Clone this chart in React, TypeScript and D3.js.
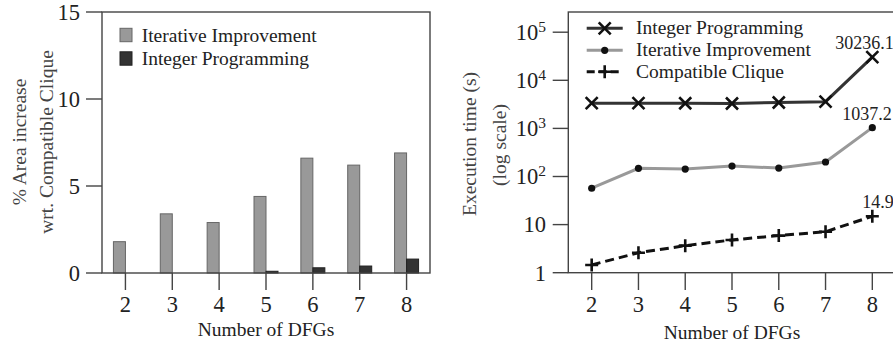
import React from 'react';
import * as d3 from 'd3';

// ---------- data ----------
const categories = [2, 3, 4, 5, 6, 7, 8];

// left chart: % area increase wrt. Compatible Clique
const areaIterative = [1.8, 3.4, 2.9, 4.4, 6.6, 6.2, 6.9];
const areaInteger = [0, 0, 0, 0.1, 0.3, 0.4, 0.8];
const areaTicks = [0, 5, 10, 15];

// right chart: execution time (s), log scale
const timeInteger = [3350, 3350, 3330, 3300, 3450, 3600, 30236.1];
const timeIterative = [57, 148, 143, 165, 150, 200, 1037.2];
const timeClique = [1.45, 2.6, 3.65, 4.8, 5.9, 7.1, 14.9];
const timeTicks = [1, 10, 100, 1000, 10000, 100000];
const timeTickBase = ['1', '10', '10', '10', '10', '10'];
const timeTickExp = ['', '', '2', '3', '4', '5'];
const annotationLabels = ['30236.1', '1037.2', '14.9'];

// ---------- layout / style constants ----------
const FONT = '"Liberation Serif", "Times New Roman", serif';
const TEXT = '#222';
const AXIS = '#444';
const annDx = [-37, -30, -10];

const L = { left: 102, right: 430, top: 12, bottom: 273 };
const R = { left: 568.3, right: 895.7, top: 12, bottom: 272.7 };

const xMark = 'M-6,-6L6,6M-6,6L6,-6';
const plusMark = 'M-6.5,0H6.5M0,-6.5V6.5';

export default function App() {
  // left scales
  const xL = d3.scaleBand<number>().domain(categories).range([L.left, L.right]).padding(0);
  const cL = (c: number) => (xL(c) as number) + xL.bandwidth() / 2;
  const yL = d3.scaleLinear().domain([0, 15]).range([L.bottom, L.top]);
  const barW = 12;

  // right scales
  const xR = d3.scaleBand<number>().domain(categories).range([R.left, R.right]).padding(0);
  const cR = (c: number) => (xR(c) as number) + xR.bandwidth() / 2;
  const yR = d3.scaleLog().domain([1, Math.pow(10, 5.42)]).range([R.bottom, R.top]);

  const line = d3
    .line<number>()
    .x((_, i) => cR(categories[i]))
    .y((v) => yR(v));

  const seriesR = [
    { name: 'Integer Programming', data: timeInteger, color: '#333', dash: undefined as string | undefined, mark: 'x' },
    { name: 'Iterative Improvement', data: timeIterative, color: '#999', dash: undefined, mark: 'dot' },
    { name: 'Compatible Clique', data: timeClique, color: '#111', dash: '9,5', mark: 'plus' },
  ];

  const marker = (m: string, x: number, y: number, key: string) => {
    if (m === 'dot') return <circle key={key} cx={x} cy={y} r={3.6} fill="#111" />;
    return (
      <path
        key={key}
        d={m === 'x' ? xMark : plusMark}
        transform={`translate(${x},${y})`}
        stroke="#111"
        strokeWidth={2.6}
        fill="none"
      />
    );
  };

  const legendRowsY = [28.3, 50.3, 71.7];

  return (
    <svg
      width={893}
      height={347}
      style={{ position: 'absolute', left: 0, top: 0, background: '#fff' }}
      fontFamily={FONT}
    >
      {/* ================= LEFT CHART ================= */}
      <g>
        {/* bars */}
        {categories.map((c, i) => (
          <g key={'b' + c}>
            <rect
              x={cL(c) - barW}
              y={yL(areaIterative[i])}
              width={barW}
              height={L.bottom - yL(areaIterative[i])}
              fill="#999"
              stroke="#666"
              strokeWidth={1}
            />
            {areaInteger[i] > 0 && (
              <rect
                x={cL(c)}
                y={yL(areaInteger[i])}
                width={barW}
                height={L.bottom - yL(areaInteger[i])}
                fill="#333"
                stroke="#222"
                strokeWidth={1}
              />
            )}
          </g>
        ))}
        {/* frame */}
        <rect x={L.left} y={L.top} width={L.right - L.left} height={L.bottom - L.top} fill="none" stroke={AXIS} strokeWidth={1.4} />
        {/* y ticks */}
        {areaTicks.map((t) => (
          <g key={'ly' + t}>
            <line x1={86} x2={L.left} y1={yL(t)} y2={yL(t)} stroke={AXIS} strokeWidth={1.4} />
            <text x={80} y={yL(t)} dy="0.35em" textAnchor="end" fontSize={22.5} fill={TEXT}>
              {t}
            </text>
          </g>
        ))}
        {/* x ticks */}
        {categories.map((c) => (
          <g key={'lx' + c}>
            <line x1={cL(c)} x2={cL(c)} y1={L.bottom} y2={290} stroke={AXIS} strokeWidth={1.4} />
            <text x={cL(c)} y={311.5} textAnchor="middle" fontSize={22.5} fill={TEXT}>
              {c}
            </text>
          </g>
        ))}
        <text x={(L.left + L.right) / 2} y={336} textAnchor="middle" fontSize={19.5} fill={TEXT}>
          Number of DFGs
        </text>
        <text transform={`translate(19,142) rotate(-90)`} textAnchor="middle" dominantBaseline="central" fontSize={19.5} fill="#444">
          % Area increase
        </text>
        <text transform={`translate(46,142) rotate(-90)`} textAnchor="middle" dominantBaseline="central" fontSize={19.5} fill="#444">
          wrt. Compatible Clique
        </text>
        {/* legend */}
        <rect x={120} y={28.3} width={12} height={13.4} fill="#999" stroke="#666" strokeWidth={1} />
        <text x={141.7} y={41.5} fontSize={19.5} fill={TEXT}>Iterative Improvement</text>
        <rect x={120} y={51.8} width={12} height={13.4} fill="#333" stroke="#222" strokeWidth={1} />
        <text x={141.7} y={65} fontSize={19.5} fill={TEXT}>Integer Programming</text>
      </g>

      {/* ================= RIGHT CHART ================= */}
      <g>
        {/* frame */}
        <rect x={R.left} y={R.top} width={R.right - R.left} height={R.bottom - R.top} fill="none" stroke={AXIS} strokeWidth={1.4} />
        {/* y ticks */}
        {timeTicks.map((t, i) => (
          <g key={'ry' + t}>
            <line x1={552.7} x2={R.left} y1={yR(t)} y2={yR(t)} stroke={AXIS} strokeWidth={1.4} />
            <text x={546} y={yR(t)} dy="0.35em" textAnchor="end" fontSize={22.5} fill={TEXT}>
              <tspan>{timeTickBase[i]}</tspan>
              {timeTickExp[i] && (
                <tspan dy={-8.5} fontSize={15.5}>
                  {timeTickExp[i]}
                </tspan>
              )}
            </text>
          </g>
        ))}
        {/* x ticks */}
        {categories.map((c) => (
          <g key={'rx' + c}>
            <line x1={cR(c)} x2={cR(c)} y1={R.bottom} y2={290} stroke={AXIS} strokeWidth={1.4} />
            <text x={cR(c)} y={311.5} textAnchor="middle" fontSize={22.5} fill={TEXT}>
              {c}
            </text>
          </g>
        ))}
        <text x={cR(5)} y={339} textAnchor="middle" fontSize={19.5} fill={TEXT}>
          Number of DFGs
        </text>
        <text transform={`translate(469,144) rotate(-90)`} textAnchor="middle" dominantBaseline="central" fontSize={19.5} fill="#444">
          Execution time (s)
        </text>
        <text transform={`translate(499,145) rotate(-90)`} textAnchor="middle" dominantBaseline="central" fontSize={19.5} fill="#444">
          (log scale)
        </text>

        {/* lines */}
        {seriesR.map((s) => (
          <path
            key={'l' + s.name}
            d={line(s.data) as string}
            fill="none"
            stroke={s.color}
            strokeWidth={3}
            strokeDasharray={s.dash}
          />
        ))}
        {/* markers */}
        {seriesR.map((s) =>
          s.data.map((v, i) => marker(s.mark, cR(categories[i]), yR(v), s.name + i))
        )}
        {/* annotations */}
        {seriesR.map((s, k) => {
          const last = s.data.length - 1;
          return (
            <text
              key={'a' + k}
              x={cR(categories[last]) + annDx[k]}
              y={yR(s.data[last]) - 8}
              fontSize={18}
              fill={TEXT}
            >
              {annotationLabels[k]}
            </text>
          );
        })}

        {/* legend */}
        {seriesR.map((s, k) => (
          <g key={'lg' + k}>
            <line
              x1={586.7}
              x2={622.7}
              y1={legendRowsY[k]}
              y2={legendRowsY[k]}
              stroke={s.color}
              strokeWidth={3}
              strokeDasharray={s.dash ? '8,4' : undefined}
            />
            {marker(s.mark, 604.7, legendRowsY[k], 'lgm' + k)}
            <text x={636} y={legendRowsY[k] + 6} fontSize={19.5} fill={TEXT}>
              {s.name}
            </text>
          </g>
        ))}
      </g>
    </svg>
  );
}
